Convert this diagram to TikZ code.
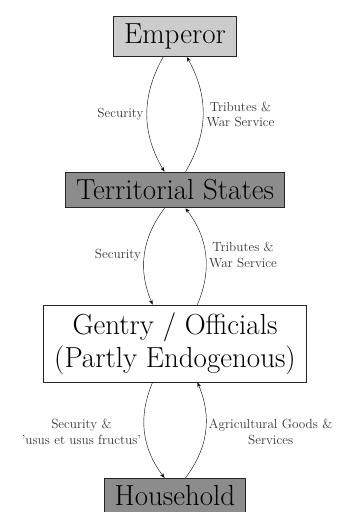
\documentclass[tikz,border=0pt]{standalone}
\usetikzlibrary{arrows.meta}
\begin{document}
\begin{tikzpicture}[x=1pt,y=1pt,>=Stealth,
  level/.style={draw=black!85, line width=0.8pt, inner xsep=10.5pt, inner ysep=7.5pt, font=\fontsize{29}{33}\selectfont, align=center},
  flow/.style={font=\fontsize{13.2}{15.5}\selectfont, align=center, text=black!80}]
\useasboundingbox (0,0) rectangle (340,512);
\node[level, fill=black!20] (emperor) at (175,475.5) {Emperor};
\node[level, fill=black!45] (states) at (175,322) {Territorial States};
\node[level, fill=white] (gentry) at (175,168.5) {Gentry / Officials\\(Partly Endogenous)};
\node[level, fill=black!45] (household) at (175,16) {Household};
\draw[->] (emperor) to[bend right] node[flow,left] {Security} (states);
\draw[->] (states) to[bend right] node[flow,right] {Tributes \&\\War Service} (emperor);
\draw[->] (states) to[bend right] node[flow,left] {Security} (gentry);
\draw[->] (gentry) to[bend right] node[flow,right] {Tributes \&\\War Service} (states);
\draw[->] (gentry) to[bend right] node[flow,left] {Security \&\\'usus et usus fructus'} (household);
\draw[->] (household) to[bend right] node[flow,right] {Agricultural Goods \&\\Services} (gentry);
\end{tikzpicture}
\end{document}
